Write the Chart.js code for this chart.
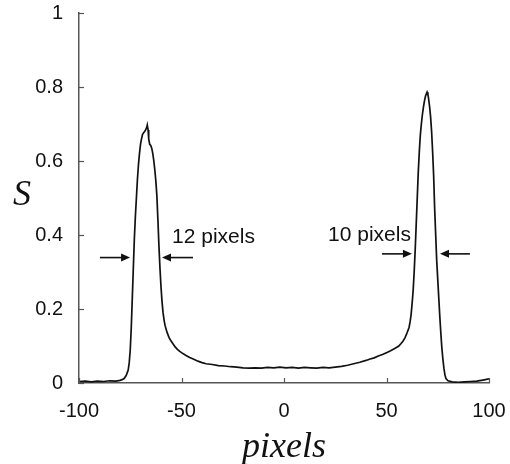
<!DOCTYPE html>
<html>
<head>
<meta charset="utf-8">
<script src="https://cdn.jsdelivr.net/npm/chart.js@4.4.1/dist/chart.umd.min.js"></script>
<style>
  html, body { margin: 0; padding: 0; background: #fff; }
  #wrap { width: 510px; height: 464px; }
</style>
</head>
<body>
<div id="wrap"><canvas id="c" width="510" height="464"></canvas></div>
<script>
// Intensity profile S across the image row.
const xs = [
  -100, -97, -94, -91, -88, -85, -82, -80, -79, -78, -77, -76, -75.5, -75,
  -74.5, -74, -73.5, -73, -72.5, -72, -71.5, -71, -70.5, -70, -69.5, -69,
  -68.5, -68, -67.5, -67, -66.7, -66.3, -66, -65.5, -65, -64.5, -64, -63.5,
  -63, -62.5, -62, -61.5, -61, -60.5, -60, -59.5, -59, -58.5, -58, -57, -56,
  -55, -54, -53, -52, -51, -50, -48, -46, -44, -42, -40, -38, -35, -32, -29,
  -26, -23, -20, -17, -14, -11, -8, -5, -2, 1, 4, 7, 10, 13, 16, 19, 22, 25,
  28, 31, 34, 37, 40, 42, 44, 46, 48, 50, 52, 54, 56, 57, 58, 59, 60, 61,
  61.5, 62, 62.5, 63, 63.5, 64, 64.5, 65, 65.5, 66, 66.5, 67, 67.5, 68, 68.5,
  69, 69.5, 69.8, 70.2, 70.5, 71, 71.5, 72, 72.5, 73, 73.5, 74, 74.5, 75,
  75.5, 76, 76.5, 77, 77.5, 78, 78.5, 79, 80, 82, 85, 88, 91, 94, 97, 100
];
const ys = [
  0.004, 0.005, 0.003, 0.005, 0.004, 0.006, 0.005, 0.007, 0.009, 0.012, 0.02, 0.035, 0.055, 0.09,
  0.15, 0.23, 0.31, 0.39, 0.45, 0.50, 0.55, 0.59, 0.62, 0.645, 0.66, 0.672,
  0.676, 0.68, 0.684, 0.69, 0.697, 0.684, 0.66, 0.645, 0.642, 0.634, 0.62, 0.60,
  0.575, 0.545, 0.505, 0.44, 0.37, 0.31, 0.26, 0.22, 0.19, 0.17, 0.155, 0.136, 0.122,
  0.113, 0.105, 0.097, 0.091, 0.086, 0.082, 0.075, 0.069, 0.064, 0.059, 0.055, 0.052, 0.050, 0.047, 0.046,
  0.044, 0.043, 0.041, 0.040, 0.041, 0.040, 0.042, 0.041, 0.043, 0.041, 0.042, 0.040, 0.042, 0.041, 0.040, 0.042, 0.041, 0.043,
  0.045, 0.048, 0.052, 0.056, 0.061, 0.065, 0.068, 0.073, 0.077, 0.082, 0.087, 0.093, 0.100, 0.106, 0.113, 0.122, 0.135, 0.150,
  0.165, 0.185, 0.215, 0.25, 0.30, 0.36, 0.43, 0.50, 0.57, 0.625, 0.67, 0.70, 0.725, 0.745, 0.762,
  0.775, 0.782, 0.786, 0.78, 0.77, 0.748, 0.72, 0.68, 0.625, 0.56, 0.47, 0.40, 0.33, 0.28,
  0.23, 0.18, 0.135, 0.095, 0.065, 0.04, 0.022, 0.012, 0.006, 0.003, 0.002, 0.003, 0.004, 0.005, 0.008, 0.011
];

const xTicks = [-100, -50, 0, 50, 100];
const yTicks = [0, 0.2, 0.4, 0.6, 0.8, 1];

// FWHM markers: arrow pairs pointing at the peak flanks
const markers = [
  { y: 0.339, left: [-89.8, -75.1], right: [-59.5, -44.4], label: "12 pixels", lx: -54.6, ly: 0.378 },
  { y: 0.349, left: [47.8, 62.4], right: [76.1, 90.7], label: "10 pixels", lx: 21.5, ly: 0.384 },
];

const AXIS = "#555";
const SANS = "'Liberation Sans', Arial, sans-serif";
const SERIF = "'Liberation Serif', 'Times New Roman', serif";

const points = xs.map((x, i) => ({ x: x, y: ys[i] }));

function arrow(ctx, x0, x1, y) {
  // line from x0 to tip x1, filled head at x1
  const dir = x1 > x0 ? 1 : -1;
  ctx.beginPath();
  ctx.moveTo(x0, y);
  ctx.lineTo(x1 - dir * 6, y);
  ctx.stroke();
  ctx.beginPath();
  ctx.moveTo(x1, y);
  ctx.lineTo(x1 - dir * 9, y - 4);
  ctx.lineTo(x1 - dir * 9, y + 4);
  ctx.closePath();
  ctx.fill();
}

const decor = {
  id: "decor",
  afterDraw(chart) {
    const ctx = chart.ctx;
    const xs_ = chart.scales.x, ys_ = chart.scales.y;
    const a = chart.chartArea;
    ctx.save();
    // inward tick marks
    ctx.strokeStyle = AXIS;
    ctx.lineWidth = 1.2;
    yTicks.forEach((v) => {
      const py = Math.round(ys_.getPixelForValue(v)) + 0.5;
      ctx.beginPath();
      ctx.moveTo(a.left, py);
      ctx.lineTo(a.left + 5, py);
      ctx.stroke();
    });
    xTicks.forEach((v) => {
      const px = Math.round(xs_.getPixelForValue(v)) + 0.5;
      ctx.beginPath();
      ctx.moveTo(px, a.bottom);
      ctx.lineTo(px, a.bottom - 5);
      ctx.stroke();
    });
    // axis titles
    ctx.fillStyle = "#111";
    ctx.font = "italic 36px " + SERIF;
    ctx.textAlign = "center";
    ctx.textBaseline = "alphabetic";
    ctx.fillText("S", 22, 205);
    ctx.fillText("pixels", (a.left + a.right) / 2, 457);
    // width markers
    ctx.strokeStyle = "#111";
    ctx.fillStyle = "#111";
    ctx.lineWidth = 1.6;
    ctx.font = "21px " + SANS;
    ctx.textAlign = "left";
    markers.forEach((m) => {
      const py = ys_.getPixelForValue(m.y);
      arrow(ctx, xs_.getPixelForValue(m.left[0]), xs_.getPixelForValue(m.left[1]), py);
      arrow(ctx, xs_.getPixelForValue(m.right[1]), xs_.getPixelForValue(m.right[0]), py);
      ctx.fillText(m.label, xs_.getPixelForValue(m.lx), ys_.getPixelForValue(m.ly));
    });
    ctx.restore();
  },
};

new Chart(document.getElementById("c"), {
  type: "scatter",
  data: {
    datasets: [{
      data: points,
      showLine: true,
      borderColor: "#111",
      borderWidth: 1.7,
      pointRadius: 0,
      tension: 0,
    }],
  },
  options: {
    responsive: false,
    animation: false,
    layout: { padding: { top: 13, right: 21, left: 0, bottom: 0 } },
    plugins: { legend: { display: false }, tooltip: { enabled: false } },
    scales: {
      x: {
        type: "linear",
        min: -100, max: 100,
        afterBuildTicks: (s) => { s.ticks = xTicks.map((v) => ({ value: v })); },
        afterFit: (s) => { s.height = 81; s.paddingLeft = 0; s.paddingRight = 0; },
        grid: { display: false },
        border: { display: true, color: AXIS, width: 1.5 },
        ticks: { color: "#111", font: { family: SANS, size: 20 }, padding: 8, maxRotation: 0 },
      },
      y: {
        min: 0, max: 1,
        afterBuildTicks: (s) => { s.ticks = yTicks.map((v) => ({ value: v })); },
        afterFit: (s) => { s.width = 79; s.paddingTop = 0; s.paddingBottom = 0; },
        grid: { display: false },
        border: { display: true, color: AXIS, width: 1.5 },
        ticks: {
          color: "#111", font: { family: SANS, size: 20 }, padding: 8,
          callback: (v) => String(+v.toFixed(1)),
        },
      },
    },
  },
  plugins: [decor],
});
</script>
</body>
</html>
